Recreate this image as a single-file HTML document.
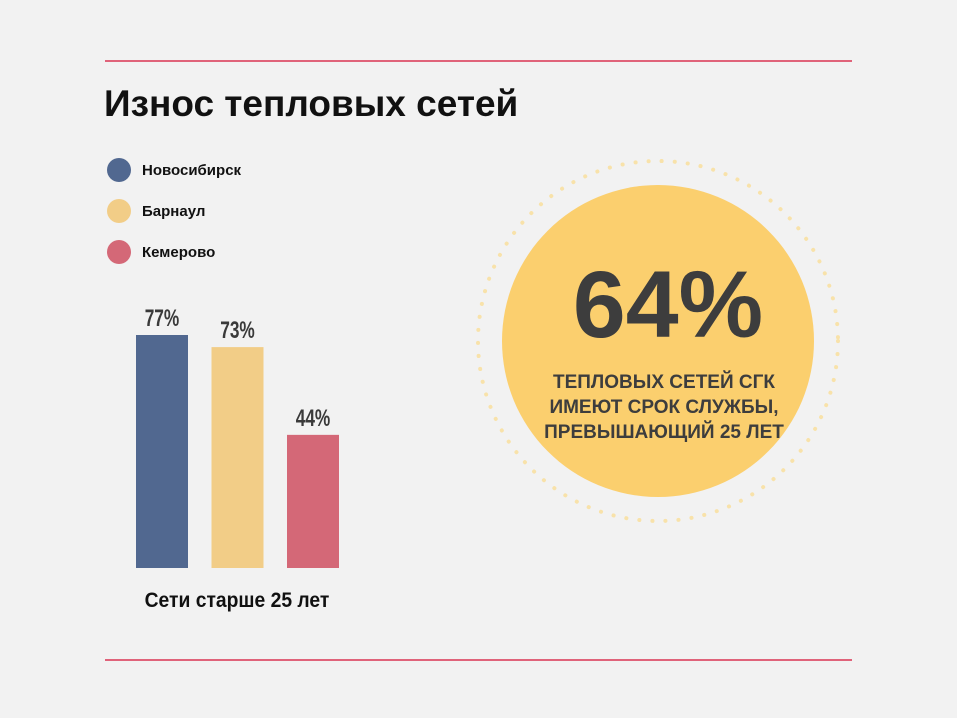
<!DOCTYPE html>
<html><head><meta charset="utf-8"><style>
body{margin:0;background:#f2f2f2;}
svg{display:block}
</style></head><body>
<svg width="957" height="718" viewBox="0 0 957 718" xmlns="http://www.w3.org/2000/svg" font-family="Liberation Sans, sans-serif">
<rect width="957" height="718" fill="#f2f2f2"/>
<line x1="105" y1="61" x2="852" y2="61" stroke="#e0637a" stroke-width="2"/>
<line x1="105" y1="660" x2="852" y2="660" stroke="#e0637a" stroke-width="2"/>
<text x="104" y="116" font-size="37" font-weight="bold" fill="#111">Износ тепловых сетей</text>
<g id="legend"></g>
<g id="bars"></g>
<text x="237" y="607" font-size="21" font-weight="bold" fill="#111" text-anchor="middle" transform="translate(237 0) scale(0.92 1) translate(-237 0)">Сети старше 25 лет</text>
<circle cx="658" cy="341" r="180" fill="none" stroke="#f8e2aa" stroke-width="4" stroke-dasharray="0.1 13" stroke-linecap="round"/>
<circle cx="658" cy="341" r="156" fill="#fbcf6e"/>
<text x="668" y="337" font-size="95" font-weight="bold" fill="#3d3d3d" text-anchor="middle">64%</text>
<g font-size="19" font-weight="bold" fill="#3d3d3d" text-anchor="middle">
<text x="664" y="388">ТЕПЛОВЫХ СЕТЕЙ СГК</text>
<text x="664" y="413">ИМЕЮТ СРОК СЛУЖБЫ,</text>
<text x="664" y="438">ПРЕВЫШАЮЩИЙ 25 ЛЕТ</text>
</g>
</svg>
<script>
const categories = ["Новосибирск","Барнаул","Кемерово"];
const values = [77,73,44];
const valueLabels = ["77%","73%","44%"];
const colors = ["#516890","#f2cd87","#d46877"];
const NS="http://www.w3.org/2000/svg";
const baseY=568, pxPer=3.026, x0=136, barW=52, step=75.5;
function yScale(v){return baseY - v*pxPer;}
function xScale(i){return x0 + i*step;}
const bars=document.getElementById('bars');
const legend=document.getElementById('legend');
values.forEach((v,i)=>{
  const r=document.createElementNS(NS,'rect');
  r.setAttribute('x',xScale(i));r.setAttribute('y',yScale(v));
  r.setAttribute('width',barW);r.setAttribute('height',baseY-yScale(v));
  r.setAttribute('fill',colors[i]);
  
  
  bars.appendChild(r);
  const t=document.createElementNS(NS,'text');
  const cx=xScale(i)+barW/2;
  t.setAttribute('x',cx);t.setAttribute('y',yScale(v)-9);
  t.setAttribute('text-anchor','middle');t.setAttribute('font-size','24');
  t.setAttribute('font-weight','bold');t.setAttribute('fill','#3a3a3a');
  t.setAttribute('transform','translate('+cx+' 0) scale(0.72 1) translate('+(-cx)+' 0)');
  t.textContent=valueLabels[i];
  
  
  bars.appendChild(t);
  const c=document.createElementNS(NS,'circle');
  c.setAttribute('cx',119);c.setAttribute('cy',170+i*41);c.setAttribute('r',12);
  c.setAttribute('fill',colors[i]);
  
  
  legend.appendChild(c);
  const lt=document.createElementNS(NS,'text');
  lt.setAttribute('x',142);lt.setAttribute('y',175+i*41);
  lt.setAttribute('font-size','15');lt.setAttribute('font-weight','bold');lt.setAttribute('fill','#111');
  lt.textContent=categories[i];
  
  
  legend.appendChild(lt);
});
</script>
</body></html>
